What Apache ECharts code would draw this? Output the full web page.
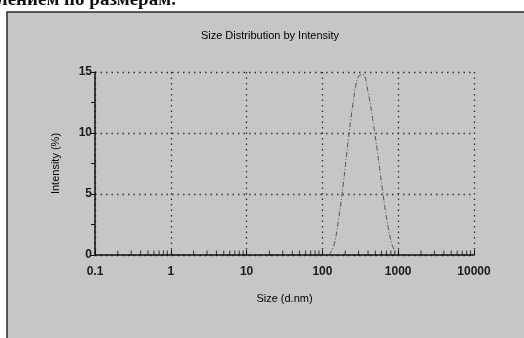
<!DOCTYPE html>
<html>
<head>
<meta charset="utf-8">
<script src="https://cdn.jsdelivr.net/npm/echarts@6/dist/echarts.min.js"></script>
<style>
html, body { margin: 0; padding: 0; background: #fff; }
#chart { width: 524px; height: 338px; }
</style>
</head>
<body>
<div id="chart"></div>
<script>
// size bins (d.nm) and intensity (%)
var sizes = [122.4, 141.8, 164.2, 190.1, 220.2, 255.0, 295.3, 342.0, 396.1, 458.7, 531.2, 615.1, 712.4, 825.0, 955.4];
var intensity = [0, 0.8, 3.0, 6.0, 9.5, 12.5, 14.6, 14.8, 13.5, 11.2, 8.5, 5.5, 2.8, 0.9, 0];
var xTicks = [0.1, 1, 10, 100, 1000, 10000];
var yTicks = [0, 5, 10, 15];

var curve = sizes.map(function (s, i) { return [s, intensity[i]]; });

// minor ticks 2..9 in each decade
var minor = [];
for (var d = 0; d < xTicks.length - 1; d++) {
    for (var k = 2; k <= 9; k++) minor.push([xTicks[d] * k, 0]);
}

var myChart = echarts.init(document.getElementById('chart'));
var font = '"Liberation Sans", Arial, sans-serif';
option = {
    animation: false,
    backgroundColor: '#fff',
    graphic: [
        {
            type: 'rect',
            z: -10,
            shape: { x: 7, y: 12, width: 540, height: 350 },
            style: { fill: '#c6c6c6', stroke: '#2a2a2a', lineWidth: 1.5 }
        },
        {
            type: 'text',
            left: -3,
            top: -9,
            style: {
                text: 'лением по размерам.',
                font: 'bold 19px "Liberation Serif", serif',
                fill: '#111'
            }
        }
    ],
    title: {
        text: 'Size Distribution by Intensity',
        left: 265,
        top: 25,
        textAlign: 'center',
        textStyle: { fontFamily: font, fontSize: 11, fontWeight: 'normal', color: '#000' }
    },
    grid: { left: 95, right: 50, top: 72, bottom: 83 },
    xAxis: {
        type: 'log',
        min: 0.1,
        max: 10000,
        logBase: 10,
        name: 'Size (d.nm)',
        nameLocation: 'middle',
        nameGap: 38,
        nameTextStyle: { fontFamily: font, fontSize: 11, color: '#000' },
        axisLine: { lineStyle: { color: '#111', width: 1.5 } },
        axisTick: { show: true, inside: true, length: 5, lineStyle: { color: '#111' } },
        axisLabel: {
            fontFamily: font, fontSize: 12, fontWeight: 'bold', color: '#1a1a1a', margin: 11,
            formatter: function (v) { return xTicks.indexOf(v) >= 0 ? String(v) : ''; }
        },
        splitLine: { show: true, lineStyle: { color: '#333', width: 1.3, type: [1.5, 4] } }
    },
    yAxis: {
        type: 'value',
        min: 0,
        max: 15,
        interval: 5,
        name: 'Intensity (%)',
        nameLocation: 'middle',
        nameGap: 34,
        nameTextStyle: { fontFamily: font, fontSize: 11, color: '#000' },
        axisLine: { show: true, lineStyle: { color: '#111', width: 1.5 } },
        axisTick: { show: true, length: 4, lineStyle: { color: '#111' } },
        minorTick: { show: true, splitNumber: 2, length: 4, lineStyle: { color: '#111' } },
        axisLabel: {
            fontFamily: font, fontSize: 12, fontWeight: 'bold', color: '#1a1a1a', margin: 3,
            formatter: function (v) { return yTicks.indexOf(v) >= 0 ? String(v) : ''; }
        },
        splitLine: { show: true, lineStyle: { color: '#333', width: 1.3, type: [1.5, 4] } }
    },
    series: [
        {
            name: 'minor',
            type: 'scatter',
            data: minor,
            symbol: 'rect',
            symbolSize: [1, 5],
            symbolOffset: [0, -2],
            itemStyle: { color: '#111' },
            silent: true,
            z: 3
        },
        {
            name: 'Intensity',
            type: 'line',
            data: curve,
            smooth: 0.4,
            symbol: 'none',
            lineStyle: { color: '#555', width: 1, type: [5, 2, 1, 2] },
            z: 4
        }
    ]
};
myChart.setOption(option);
</script>
</body>
</html>
